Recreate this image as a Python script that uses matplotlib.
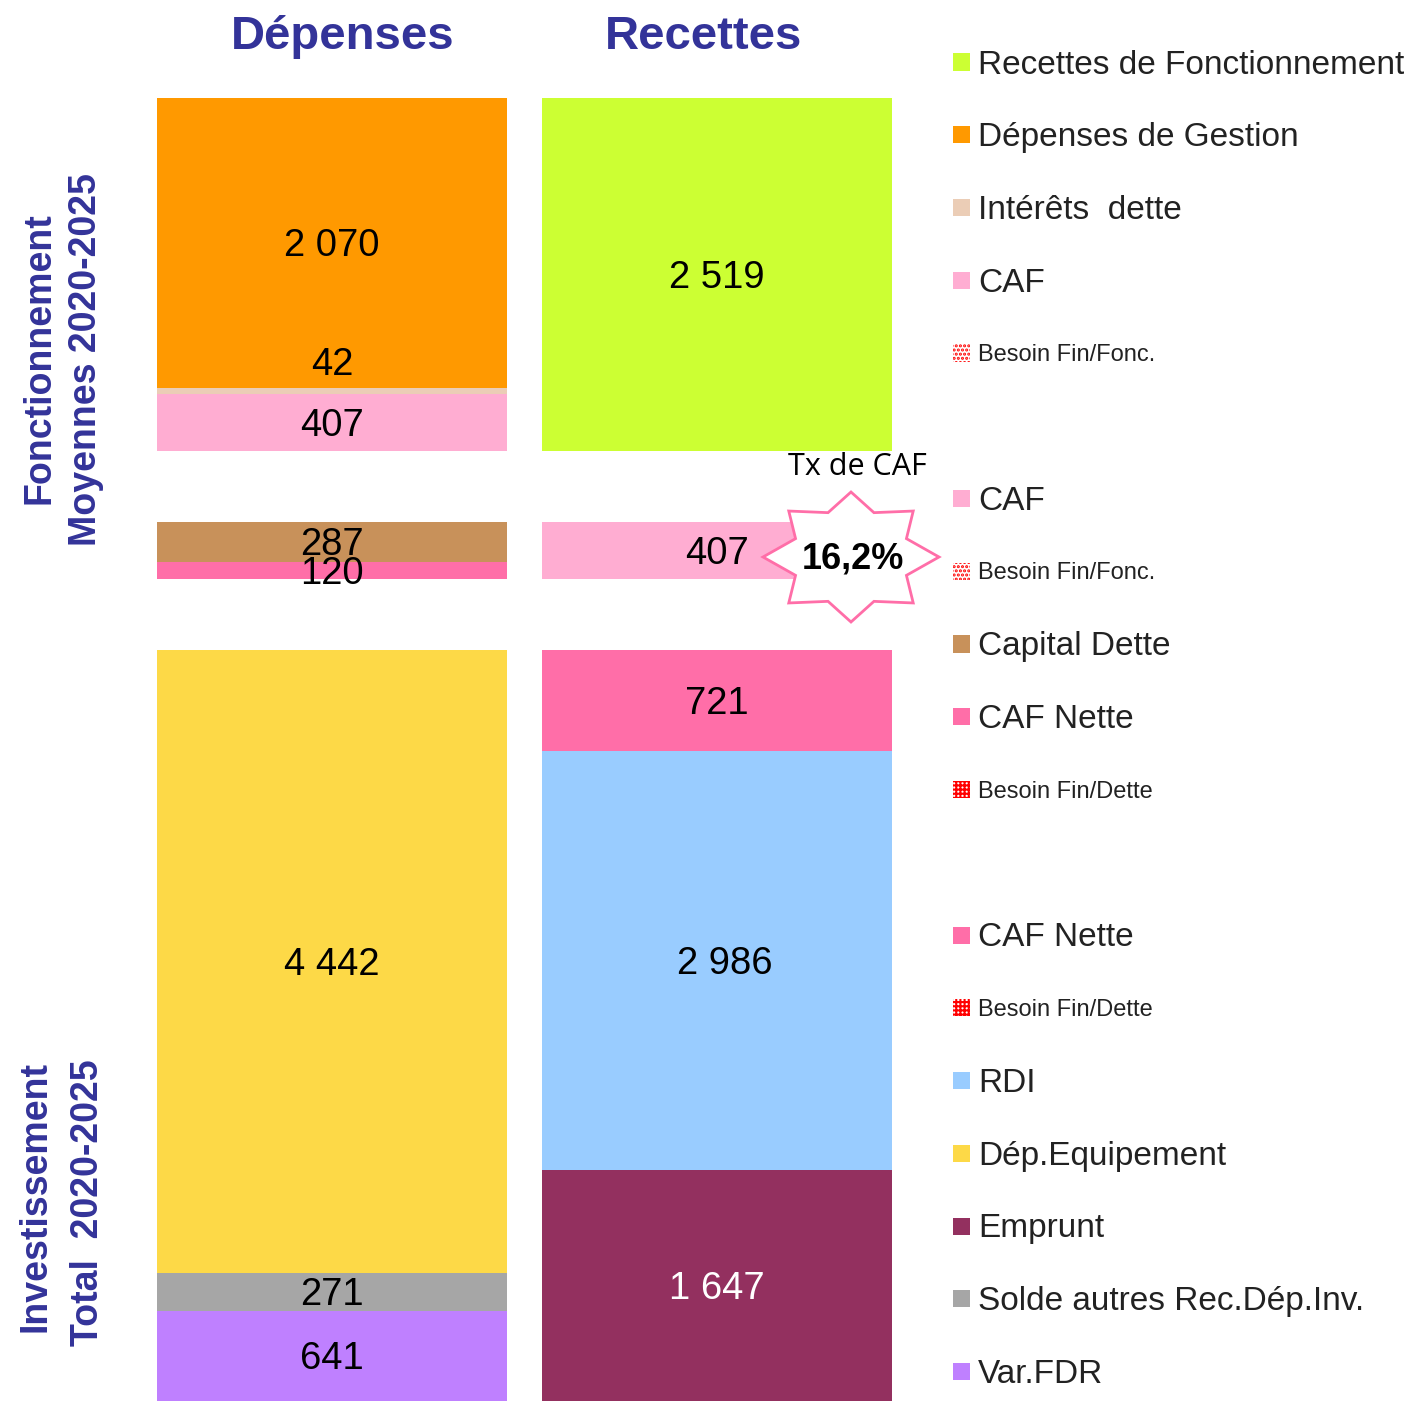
import numpy as np
import matplotlib.pyplot as plt
from matplotlib.patches import Polygon, Rectangle

plt.rcParams['font.family'] = ['Liberation Sans', 'DejaVu Sans']
plt.rcParams['hatch.linewidth'] = 1.5

# --- data (k euros) ---
dep_fonct = [2070, 42, 407]
dep_fonct_names = ['Dépenses de Gestion', 'Intérêts  dette', 'CAF']
rec_fonct = [2519]
rec_fonct_names = ['Recettes de Fonctionnement']

dep_caf = [287, 120]
dep_caf_names = ['Capital Dette', 'CAF Nette']
rec_caf = [407]
rec_caf_names = ['CAF']

dep_inv = [4442, 271, 641]
dep_inv_names = ['Dép.Equipement', 'Solde autres Rec.Dép.Inv.', 'Var.FDR']
rec_inv = [721, 2986, 1647]
rec_inv_names = ['CAF Nette', 'RDI', 'Emprunt']

tx_caf = '16,2%'

colors = {
    'Recettes de Fonctionnement': '#CCFF33',
    'Dépenses de Gestion': '#FF9900',
    'Intérêts  dette': '#EBCDB6',
    'CAF': '#FFADD2',
    'Capital Dette': '#C8915A',
    'CAF Nette': '#FF6EA8',
    'RDI': '#99CCFF',
    'Dép.Equipement': '#FDD947',
    'Emprunt': '#93305F',
    'Solde autres Rec.Dép.Inv.': '#A6A6A6',
    'Var.FDR': '#BF80FF',
}

legend_rows = ['Recettes de Fonctionnement', 'Dépenses de Gestion', 'Intérêts  dette', 'CAF',
               'Besoin Fin/Fonc.', None,
               'CAF', 'Besoin Fin/Fonc.', 'Capital Dette', 'CAF Nette', 'Besoin Fin/Dette', None,
               'CAF Nette', 'Besoin Fin/Dette', 'RDI', 'Dép.Equipement', 'Emprunt',
               'Solde autres Rec.Dép.Inv.', 'Var.FDR']

W, H = 1410, 1401
fig = plt.figure(figsize=(W / 100, H / 100), dpi=100)

def px(x, y):
    return x / W, 1 - y / H

gap = 506
ax = fig.add_axes([157 / W, 0, 735 / W, 1303 / H])
bw = 350 / 385

sections = [
    (dep_fonct, dep_fonct_names, rec_fonct, rec_fonct_names),
    (dep_caf, dep_caf_names, rec_caf, rec_caf_names),
    (dep_inv, dep_inv_names, rec_inv, rec_inv_names),
]

start = 0
for dep, dnames, rec, rnames in sections:
    for xpos, vals, names in [(0, dep, dnames), (1, rec, rnames)]:
        b = start
        for v, n in zip(vals, names):
            ax.bar(xpos, v, bottom=b, width=bw, color=colors[n], linewidth=0)
            ty = b + v / 2 + 22
            tx = xpos
            if n == 'Intérêts  dette':
                ty -= 210
            if n == 'RDI':
                tx += 0.02
            tc = 'white' if n == 'Emprunt' else 'black'
            lab = f'{v:,}'.replace(',', ' ')
            ax.text(tx, ty, lab, ha='center', va='center', fontsize=27.5, color=tc)
            b += v
    start += max(sum(dep), sum(rec)) + gap

ax.set_xlim(-bw / 2, 1 + bw / 2)
ax.set_ylim(start - gap, 0)
ax.axis('off')

# titles
navy = '#333399'
fig.text(*px(343, 37), 'Dépenses', ha='center', va='center', fontsize=34, fontweight='bold', color=navy)
fig.text(*px(704, 37), 'Recettes', ha='center', va='center', fontsize=34, fontweight='bold', color=navy)

fig.text(*px(40, 358), 'Fonctionnement', rotation=90, ha='center', va='center',
         fontsize=27, fontweight='bold', color=navy)
fig.text(*px(86, 360), 'Moyennes 2020-2025', rotation=90, ha='center', va='center',
         fontsize=27, fontweight='bold', color=navy)
fig.text(*px(36, 1197), 'Investissement', rotation=90, ha='center', va='center',
         fontsize=27, fontweight='bold', color=navy)
fig.text(*px(88, 1203), 'Total  2020-2025', rotation=90, ha='center', va='center',
         fontsize=27, fontweight='bold', color=navy)

# star for taux de CAF
cx, cy = 851, 557
ang = np.deg2rad(90 + np.arange(16) * 22.5)
rx = np.where(np.arange(16) % 2 == 0, 88, 60)
ry = np.where(np.arange(16) % 2 == 0, 65, 48)
verts = [px(cx + a * np.cos(t), cy - b * np.sin(t)) for a, b, t in zip(rx, ry, ang)]
fig.add_artist(Polygon(verts, closed=True, facecolor='white', edgecolor='#FF6EA8',
                       linewidth=2, transform=fig.transFigure))
fig.text(*px(853, 559), tx_caf, ha='center', va='center', fontsize=26, fontweight='bold')
fig.text(*px(857, 467), 'Tx de CAF', ha='center', va='center', fontsize=22,
         family=['Open Sans', 'DejaVu Sans'])

# legend
for i, name in enumerate(legend_rows):
    if name is None:
        continue
    y = 62 + i * 72.75
    sq = 17
    x0, y0 = px(953, y + sq / 2)
    if name.startswith('Besoin'):
        hatch = '....' if 'Fonc' in name else '++++'
        fig.add_artist(Rectangle((x0, y0), sq / W, sq / H, facecolor='white', edgecolor='red',
                                 hatch=hatch, linewidth=0, transform=fig.transFigure))
        fig.text(*px(978, y + 2), name, ha='left', va='center', fontsize=17, color='#222222')
    else:
        fig.add_artist(Rectangle((x0, y0), sq / W, sq / H, facecolor=colors[name],
                                 linewidth=0, transform=fig.transFigure))
        fig.text(*px(978, y + 3), name, ha='left', va='center', fontsize=24, color='#222222')

fig.savefig('out.png', dpi=100)
